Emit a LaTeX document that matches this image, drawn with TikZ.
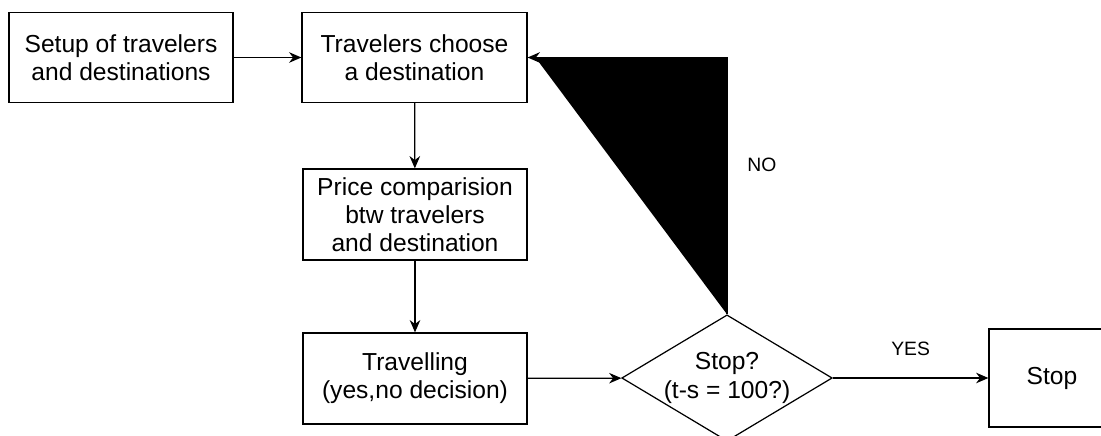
\documentclass[tikz,border=0pt]{standalone}
\usepackage{fontspec}
\setmainfont{Liberation Sans}
\usetikzlibrary{shapes.geometric,arrows.meta}
\begin{document}
\begin{tikzpicture}[line width=0.7pt, >={Stealth[length=7pt,width=6pt]},
    box/.style={draw, align=center, font=\fontsize{14}{16}\selectfont, minimum width=4.48cm, minimum height=1.8cm},
    decision/.style={draw, diamond, align=center, inner sep=0pt, shape aspect=1.667, font=\fontsize{14}{16}\selectfont, minimum width=4.2cm, minimum height=2.52cm},
    tag/.style={font=\fontsize{11}{13}\selectfont}]
\useasboundingbox (0,0) rectangle (22.02,-8.72);
\node[box] (setup) at (2.42,-1.15) {Setup of travelers\\and destinations};
\node[box, minimum width=4.5cm] (choose) at (8.29,-1.15) {Travelers choose\\a destination};
\node[box, minimum height=1.82cm] (price) at (8.30,-4.29) {Price comparision\\btw travelers\\and destination};
\node[box, minimum height=1.82cm] (travel) at (8.30,-7.57) {Travelling\\(yes,no decision)};
\node[decision] (stopq) at (14.54,-7.56) {Stop?\\(t-s = 100?)};
\node[box, minimum width=2.52cm, minimum height=1.96cm] (stop) at (21.04,-7.56) {Stop};
\draw[->] (setup) -- (choose);
\draw[->] (choose) -- (price);
\draw[->] (price) -- (travel);
\draw[->] (travel) -- (stopq);
\draw[->] (stopq) -- node[tag, above=0.32cm] (yes) {YES} (stop);
\draw[->, fill=black] (stopq.north) |- node[tag, pos=0.29, right=0.28cm] (no) {NO} (choose.east);
\end{tikzpicture}
\end{document}
